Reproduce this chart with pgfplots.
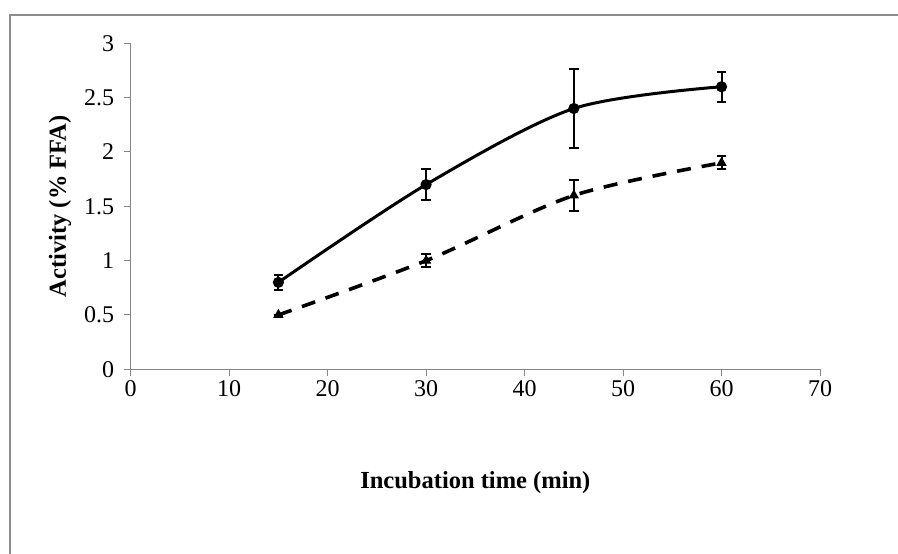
\documentclass[border=0pt]{standalone}
\usepackage{fontspec}
\setmainfont{Liberation Serif}
\usepackage{pgfplots}
\pgfplotsset{compat=1.18}
\definecolor{framegray}{HTML}{8C8C8C}
\definecolor{axgray}{HTML}{868686}
\begin{document}
\begin{tikzpicture}[x=1pt,y=1pt]
\useasboundingbox (0,0) rectangle (898,554);
\draw[color=framegray, line width=2.2pt] (10,0) -- (10,539) -- (898,539);
\begin{axis}[
  at={(130.7pt,184.7pt)}, anchor=south west,
  width=689.3pt, height=326pt, scale only axis,
  xmin=0, xmax=70, ymin=0, ymax=3,
  xtick={0,10,...,70}, ytick={0,0.5,...,3},
  axis lines*=left,
  axis line style={axgray, line width=1pt},
  tick style={axgray, line width=1pt},
  tick align=outside, major tick length=7pt,
  /pgf/number format/assume math mode=true,
  tick label style={font=\fontsize{24}{27}\selectfont},
  xticklabel style={yshift=-1pt},
  yticklabel style={xshift=-6pt},
  xlabel={\textbf{Incubation time (min)}},
  ylabel={\textbf{Activity (\% FFA)}},
  label style={font=\fontsize{24.5}{27}\selectfont},
  xlabel style={at={(axis description cs:0.5,-0.349)}, anchor=center},
  ylabel style={at={(axis description cs:-0.1026,0.5)}, anchor=center},
  clip=false,
]
\addplot[black, line width=3pt, smooth, tension=0.5,
  mark=*, mark size=4pt, mark options={solid},
  error bars/.cd, y dir=both, y explicit,
  error bar style={line width=2pt, black, solid},
  error mark options={rotate=90, mark size=4.8pt, line width=2pt, black}]
  coordinates {(15,0.8) +- (0,0.07) (30,1.7) +- (0,0.14) (45,2.4) +- (0,0.36) (60,2.6) +- (0,0.14)};
\addplot[black, line width=3.6pt, smooth, tension=0.5, dash pattern=on 14pt off 11pt,
  mark=triangle*, mark size=5pt, mark options={solid, line width=1pt},
  error bars/.cd, y dir=both, y explicit,
  error bar style={line width=2pt, black, solid},
  error mark options={rotate=90, mark size=4.8pt, line width=2pt, black, solid}]
  coordinates {(15,0.5) +- (0,0) (30,1.0) +- (0,0.06) (45,1.6) +- (0,0.14) (60,1.9) +- (0,0.06)};
\end{axis}
\end{tikzpicture}
\end{document}
